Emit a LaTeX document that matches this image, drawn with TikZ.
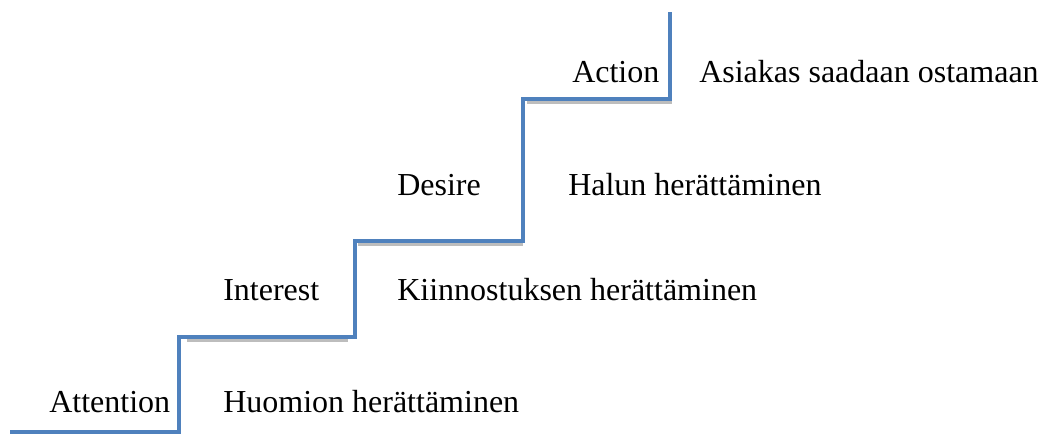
\documentclass[tikz,border=0pt]{standalone}
\usepackage{fontspec}
\setmainfont{Liberation Serif}
\usepackage{tikz}
\definecolor{stairblue}{HTML}{4F81BD}
\definecolor{shadegray}{HTML}{BDBDBD}

\begin{document}
\begin{tikzpicture}[
			x=0.75pt,y=-0.75pt,
			every node/.style={font=\fontsize{24}{28}\selectfont,anchor=base west,inner sep=0pt},
			stair/.style={line width=3.5pt,draw=stairblue,line join=miter},
			shade/.style={line width=2pt,draw=shadegray}
			]
			\useasboundingbox (0,0) rectangle (1045,434);
			% corners of the steps
			\coordinate (s0) at (10,432);
			\coordinate (s1) at (179,432);
			\coordinate (s2) at (179,337);
			\coordinate (s3) at (355,337);
			\coordinate (s4) at (355,241);
			\coordinate (s5) at (523,241);
			\coordinate (s6) at (523,99);
			\coordinate (s7) at (670,99);
			\coordinate (s8) at (670,12);
			% shadows under the treads
			\draw[shade] ([shift={(8,3.8)}]s2)--([shift={(-7,3.8)}]s3);
			\draw[shade] ([shift={(3,3.8)}]s4)--([shift={(0,3.8)}]s5);
			\draw[shade] ([shift={(4,3.8)}]s6)--([shift={(2,3.8)}]s7);
			\draw[stair] (s0)--(s1)--(s2)--(s3)--(s4)--(s5)--(s6)--(s7)--(s8);
			% labels
			\node (attn) at (49,412) {Attention};
			\node (huom) at (223,412) {Huomion herättäminen};
			\node (intr) at (223,301) {Interest};
			\node (kiin) at (397,301) {Kiinnostuksen herättäminen};
			\node (desi) at (397,196) {Desire};
			\node (halu) at (568,196) {Halun herättäminen};
			\node (actn) at (572,83) {Action};
			\node (asia) at (699,83) {Asiakas saadaan ostamaan};
		\end{tikzpicture}
\end{document}
